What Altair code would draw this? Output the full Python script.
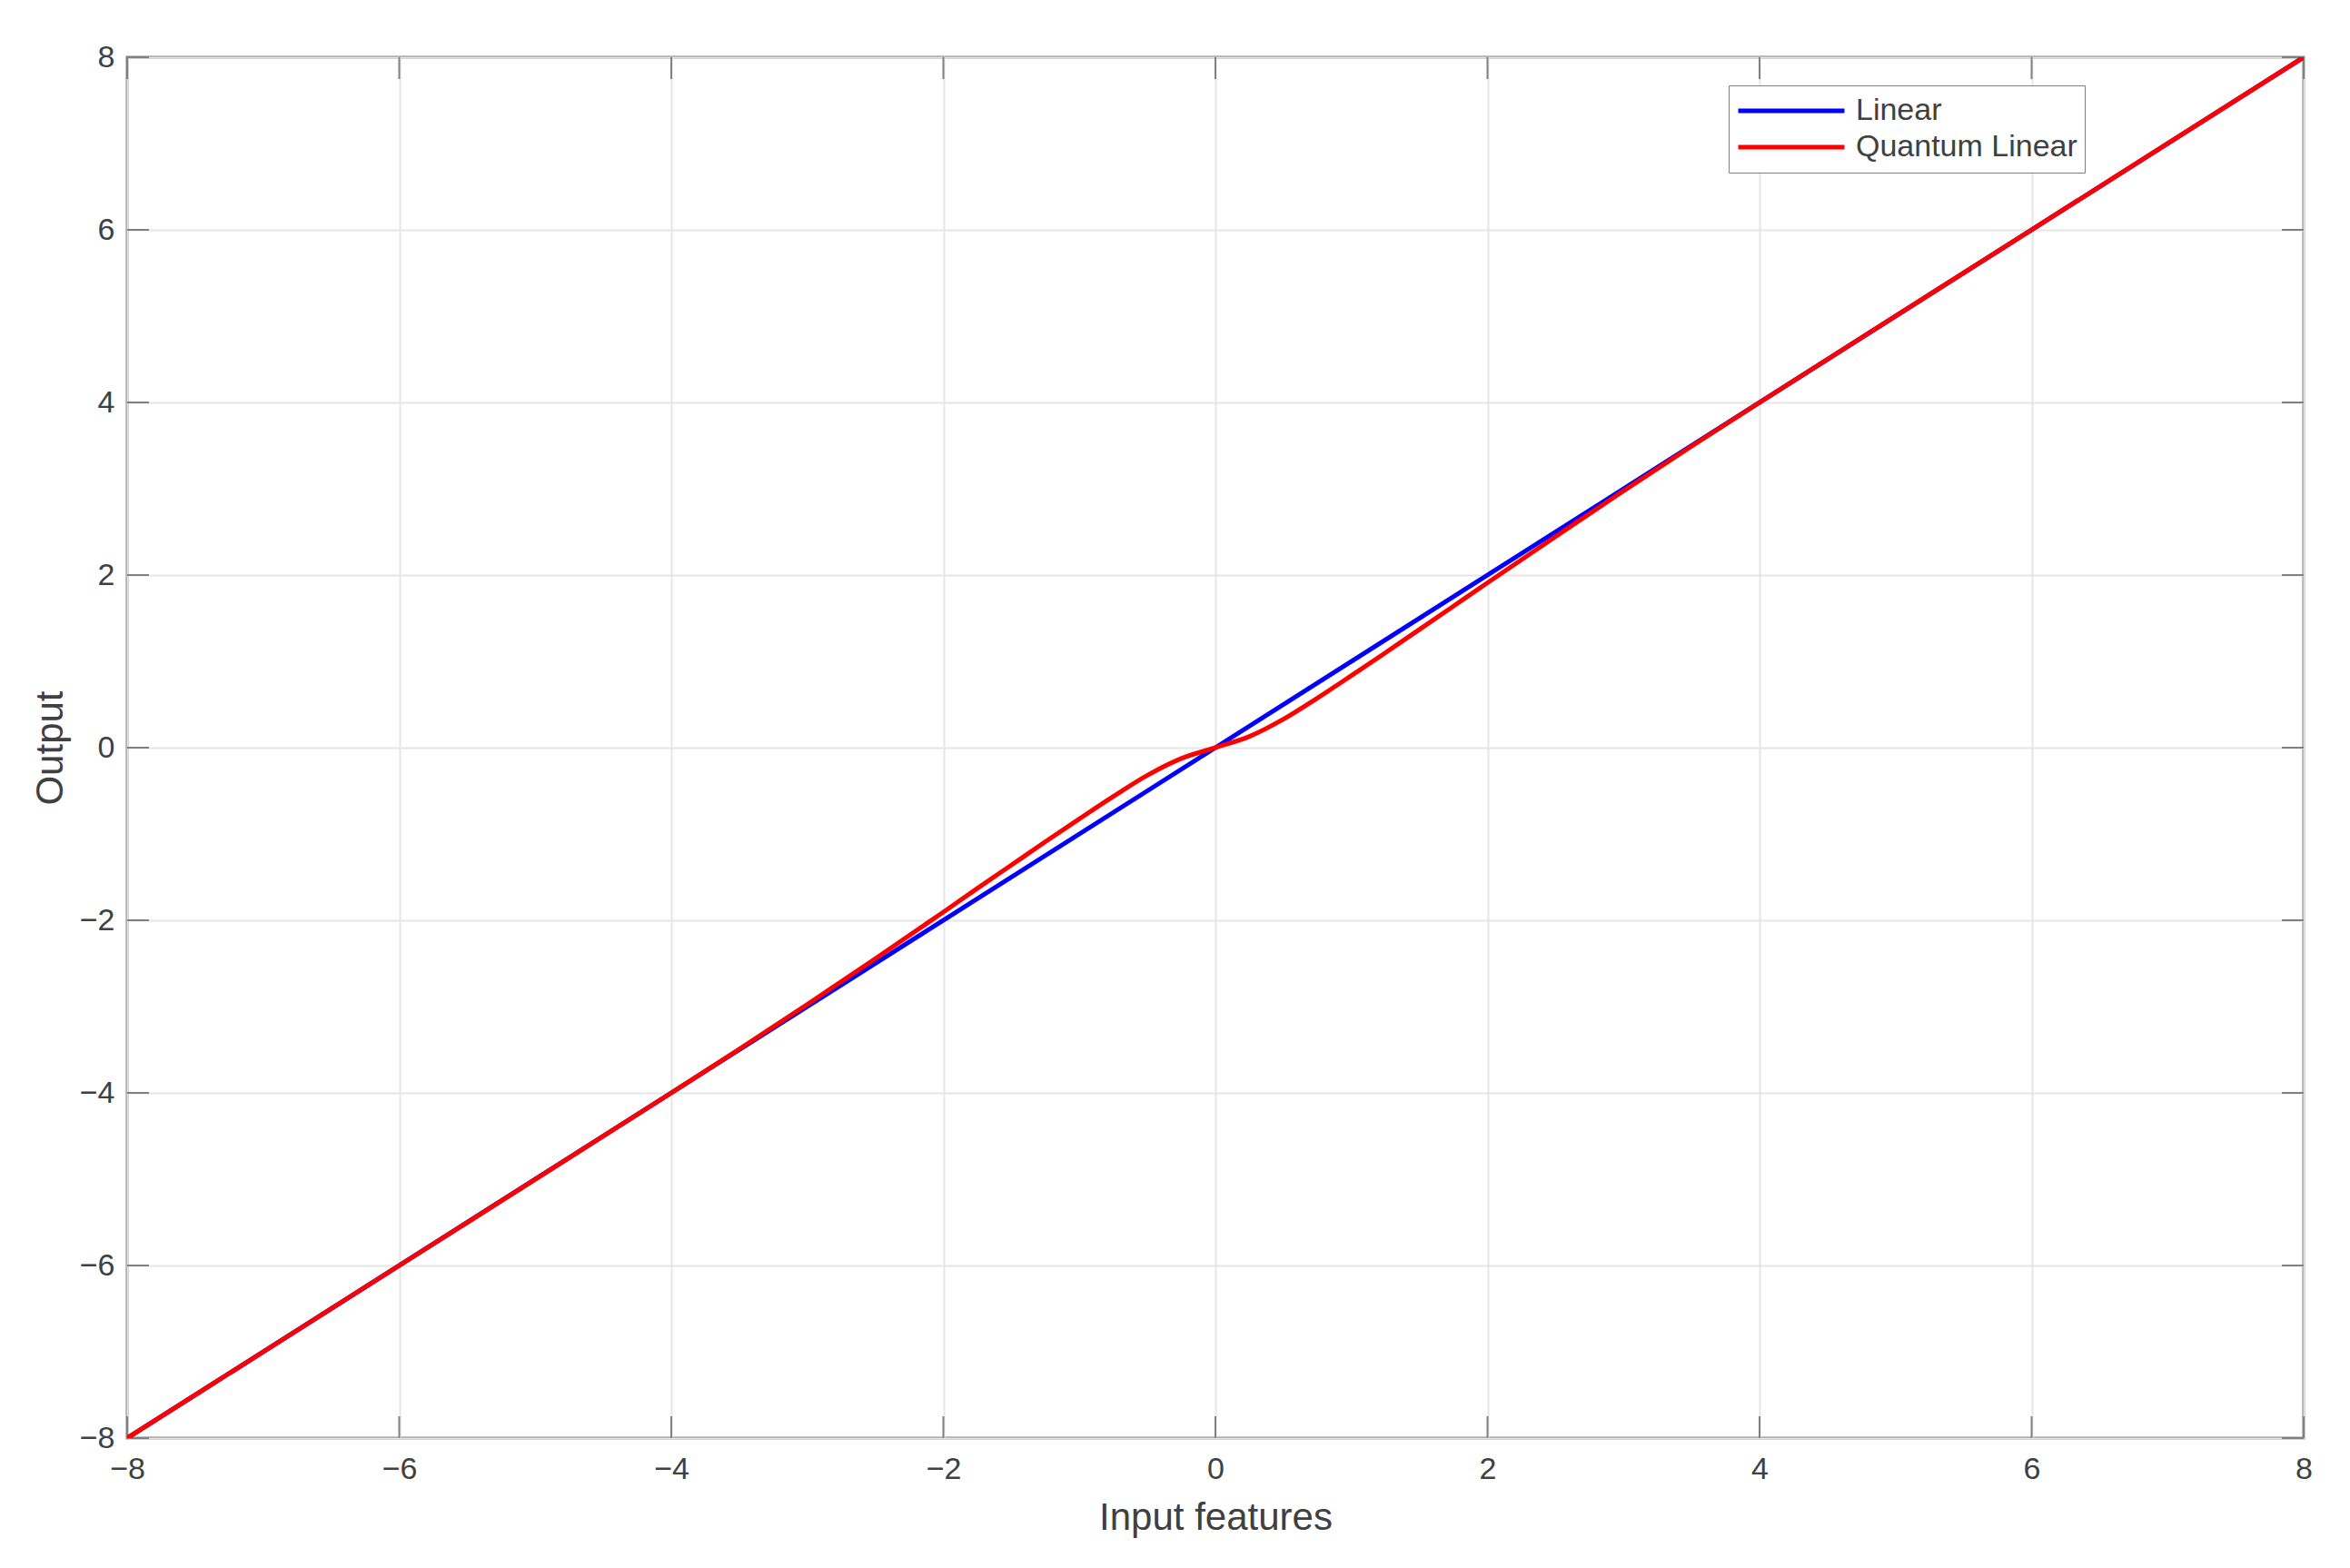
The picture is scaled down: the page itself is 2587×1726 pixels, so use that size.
import altair as alt
import pandas as pd

# ---- data ----
tick_values = [-8, -6, -4, -2, 0, 2, 4, 6, 8]

linear_x = [-8, 8]
linear_y = [-8, 8]

quantum_x = [-8, -6, -4, -3.5, -3, -2.5, -2, -1.75, -1.5, -1.25, -1, -0.75, -0.5, -0.25,
             0, 0.25, 0.5, 0.75, 1, 1.25, 1.5, 1.75, 2, 2.5, 3, 3.5, 4, 6, 8]
quantum_y = [-8, -6, -4, -3.492, -2.974, -2.445, -1.905, -1.63, -1.36, -1.09, -0.825, -0.565, -0.32, -0.125,
             0, 0.13, 0.33, 0.575, 0.835, 1.10, 1.37, 1.64, 1.91, 2.445, 2.975, 3.492, 4, 6, 8]

series_names = ["Linear", "Quantum Linear"]
series_colors = ["#0000ff", "#ff0000"]

W, H = 2396, 1520
TICK = 24
FONT = "Liberation Sans"

lin_df = pd.DataFrame({"x": linear_x, "y": linear_y, "series": series_names[0]})
q_df = pd.DataFrame({"x": quantum_x, "y": quantum_y, "series": series_names[1]})
ticks_df = pd.DataFrame({"v": tick_values})

xscale = alt.Scale(domain=[-8, 8], nice=False, zero=False)
yscale = alt.Scale(domain=[-8, 8], nice=False, zero=False)
cscale = alt.Scale(domain=series_names, range=series_colors)

xaxis = alt.Axis(values=tick_values, format="d", title="Input features", grid=True, ticks=False,
                 domain=False, labelPadding=17, titlePadding=16, labelFlush=False)
yaxis = alt.Axis(values=tick_values, format="d", title="Output", grid=True, ticks=False,
                 domain=False, labelPadding=14, titlePadding=10, labelFlush=False)

legend = alt.Legend(title=None, orient="none", legendX=1763, legendY=31,
                    symbolType="stroke", symbolStrokeWidth=5, symbolSize=13689,
                    clipHeight=40, labelFontSize=34, labelOffset=10, rowPadding=0,
                    labelLimit=1000, padding=8, strokeColor="#808080", fillColor="white",
                    labelColor="#404040", labelFont=FONT)

base_lin = alt.Chart(lin_df).mark_line(strokeWidth=5, clip=True).encode(
    x=alt.X("x:Q", scale=xscale, axis=xaxis),
    y=alt.Y("y:Q", scale=yscale, axis=yaxis),
    color=alt.Color("series:N", scale=cscale, legend=legend),
)

base_q = alt.Chart(q_df).mark_line(strokeWidth=5, clip=True, interpolate="monotone").encode(
    x=alt.X("x:Q", scale=xscale),
    y=alt.Y("y:Q", scale=yscale),
    color=alt.Color("series:N", scale=cscale, legend=legend),
)

tick_color = "#808080"
xt_bottom = alt.Chart(ticks_df).mark_rule(color=tick_color, strokeWidth=2).encode(
    x=alt.X("v:Q", scale=xscale), y=alt.value(H), y2=alt.value(H - TICK))
xt_top = alt.Chart(ticks_df).mark_rule(color=tick_color, strokeWidth=2).encode(
    x=alt.X("v:Q", scale=xscale), y=alt.value(0), y2=alt.value(TICK))
yt_left = alt.Chart(ticks_df).mark_rule(color=tick_color, strokeWidth=2).encode(
    y=alt.Y("v:Q", scale=yscale), x=alt.value(0), x2=alt.value(TICK))
yt_right = alt.Chart(ticks_df).mark_rule(color=tick_color, strokeWidth=2).encode(
    y=alt.Y("v:Q", scale=yscale), x=alt.value(W), x2=alt.value(W - TICK))

chart = alt.layer(xt_bottom, xt_top, yt_left, yt_right, base_lin, base_q).properties(
    width=W, height=H,
    autosize=alt.AutoSizeParams(type="none"),
    padding={"left": 132, "top": 55, "right": 43, "bottom": 135},
    background="white",
).configure_view(
    stroke="#808080", strokeWidth=3
).configure_axis(
    labelFont=FONT, titleFont=FONT, labelFontSize=34, titleFontSize=42,
    labelColor="#404040", titleColor="#404040", titleFontWeight="normal",
    gridColor="#e6e6e6", gridWidth=2,
)

chart.save("out.html", embed_options={"renderer": "svg", "actions": False})
